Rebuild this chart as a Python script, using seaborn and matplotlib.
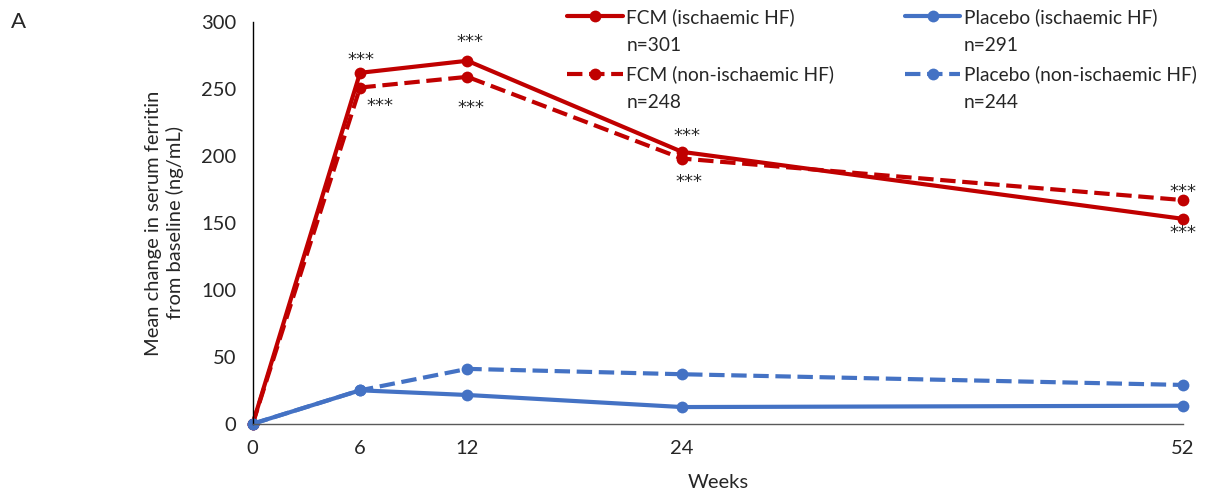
import matplotlib
matplotlib.use("Agg")
import matplotlib.pyplot as plt
import seaborn as sns
import pandas as pd
from matplotlib.lines import Line2D

weeks = [0, 6, 12, 24, 52]
fcm_isch = [0, 262, 271, 203, 153]
fcm_nonisch = [0, 251, 259, 198, 167]
pbo_isch = [0, 25, 21.5, 12.5, 13.5]
pbo_nonisch = [0, 25, 41, 37, 29]

series_names = ["FCM (ischaemic HF)", "FCM (non-ischaemic HF)",
                "Placebo (ischaemic HF)", "Placebo (non-ischaemic HF)"]
series_n = ["n=301", "n=248", "n=291", "n=244"]
series_vals = [fcm_isch, fcm_nonisch, pbo_isch, pbo_nonisch]
series_colors = ["#C00000", "#C00000", "#4472C4", "#4472C4"]
series_styles = ["-", "--", "-", "--"]

xticks = [0, 6, 12, 24, 52]
yticks = [0, 50, 100, 150, 200, 250, 300]

sig_label = "***"
# label offsets in pixels for weeks 6, 12, 24, 52
sig_off_isch = [(1, 13), (3, 19), (5, 16), (0, -14)]
sig_off_nonisch = [(20, -18), (4, -31), (7, -23), (0, 8)]

sns.set_style("white")
plt.rcParams['font.family'] = ['Lato', 'DejaVu Sans']

fig = plt.figure(figsize=(12.12, 4.98), dpi=100)
ax = fig.add_axes([0.2085, 0.149, 0.7675, 0.807])

for name, vals, col, ls in zip(series_names, series_vals, series_colors, series_styles):
    df = pd.DataFrame({"Weeks": weeks, "Value": vals})
    sns.lineplot(data=df, x="Weeks", y="Value", ax=ax, color=col, linestyle=ls,
                 linewidth=3, marker="o", markersize=8.5, markeredgewidth=0,
                 clip_on=False, legend=False)

for i, w in enumerate(weeks[1:]):
    dx, dy = sig_off_isch[i]
    ax.annotate(sig_label, (w, fcm_isch[i + 1]), xytext=(dx, dy),
                textcoords="offset pixels", ha="center", va="center",
                fontsize=13, family="DejaVu Sans")
    dx, dy = sig_off_nonisch[i]
    ax.annotate(sig_label, (w, fcm_nonisch[i + 1]), xytext=(dx, dy),
                textcoords="offset pixels", ha="center", va="center",
                fontsize=13, family="DejaVu Sans")

ax.set_xlim(0, 52)
ax.set_ylim(0, 300)
ax.set_xticks(xticks)
ax.set_yticks(yticks)
ax.tick_params(axis="both", labelsize=14.5, direction="out", length=6, width=1,
               color="#404040", pad=6)
sns.despine(ax=ax)
ax.spines["left"].set_color("#000000")
ax.spines["bottom"].set_color("#595959")
ax.spines["left"].set_linewidth(1)
ax.spines["bottom"].set_linewidth(1)
ax.set_xlabel("Weeks", fontsize=14.5, labelpad=12)
ax.set_ylabel("Mean change in serum ferritin\nfrom baseline (ng/mL)", fontsize=14.5,
              labelpad=12, linespacing=1.25)

fig.text(0.009, 0.975, "A", fontsize=16, va="top", ha="left")

handles = []
labels = []
for name, n, col, ls in zip(series_names, series_n, series_colors, series_styles):
    handles.append(Line2D([], [], color=col, linestyle=ls, linewidth=3,
                          marker="o", markersize=8.5, markeredgewidth=0))
    labels.append(name)
    handles.append(Line2D([], [], color="none"))
    labels.append(n)

fig.legend(handles, labels, ncol=2, loc="upper left",
           bbox_to_anchor=(0.454, 1.018), frameon=False, fontsize=13.8,
           handlelength=2.87, handletextpad=0.2, columnspacing=3.7,
           labelspacing=0.58)

fig.savefig("out.png", dpi=100)
